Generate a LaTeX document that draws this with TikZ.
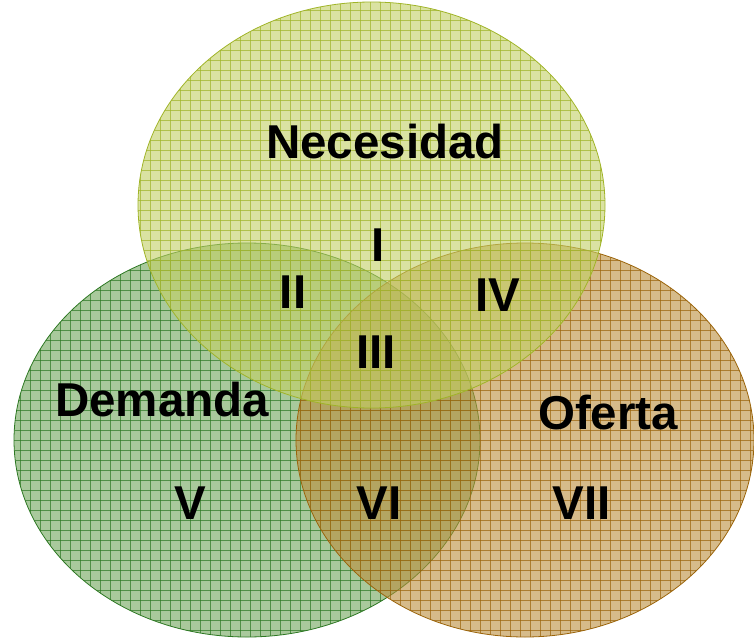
\documentclass[tikz,border=0pt]{standalone}
\usepackage{fontspec}
\setmainfont{Liberation Sans}
\definecolor{yfill}{RGB}{194,207,100}
\definecolor{yline}{RGB}{160,180,40}
\definecolor{gfill}{RGB}{112,165,90}
\definecolor{gline}{RGB}{45,120,35}
\definecolor{bfill}{RGB}{186,142,60}
\definecolor{bline}{RGB}{155,100,10}
\begin{document}
\begin{tikzpicture}[x=1pt,y=-1pt,
  lbl/.style={font=\bfseries\fontsize{47.5}{47.5}\selectfont, text=black, inner sep=0pt},
  gridline/.style={line width=0.5pt, draw opacity=0.7},
  rim/.style={line width=0.8pt}]
\useasboundingbox (0,0) rectangle (754,637);
% Demanda (green)
\begin{scope}
  \fill[gfill, fill opacity=0.6] (247,440) ellipse [x radius=233, y radius=197];
  \clip (247,440) ellipse [x radius=233, y radius=197];
  \foreach \i in {0,10,...,760} \draw[gline, gridline] (\i,0) -- (\i,637);
  \foreach \j in {0,10,...,640} \draw[gline, gridline] (0,\j) -- (754,\j);
\end{scope}
\draw[gline, rim] (247,440) ellipse [x radius=233, y radius=197];
% Oferta (brown)
\begin{scope}
  \fill[bfill, fill opacity=0.6] (525,440) ellipse [x radius=229, y radius=197];
  \clip (525,440) ellipse [x radius=229, y radius=197];
  \foreach \i in {0,10,...,760} \draw[bline, gridline] (\i,0) -- (\i,637);
  \foreach \j in {0,10,...,640} \draw[bline, gridline] (0,\j) -- (754,\j);
\end{scope}
\draw[bline, rim] (525,440) ellipse [x radius=229, y radius=197];
% Necesidad (yellow)
\begin{scope}
  \fill[yfill, fill opacity=0.6] (371.5,205) ellipse [x radius=233.5, y radius=203];
  \clip (371.5,205) ellipse [x radius=233.5, y radius=203];
  \foreach \i in {0,10,...,760} \draw[yline, gridline] (\i,0) -- (\i,637);
  \foreach \j in {0,10,...,640} \draw[yline, gridline] (0,\j) -- (754,\j);
\end{scope}
\draw[yline, rim] (371.5,205) ellipse [x radius=233.5, y radius=203];
% labels
\node[lbl] (nec) at (385,142) {Necesidad};
\node[lbl] (dem) at (162,400) {Demanda};
\node[lbl] (ofe) at (608,413) {Oferta};
\node[lbl] (r1) at (378,245) {I};
\node[lbl] (r2) at (293,292) {II};
\node[lbl] (r4) at (498,295) {IV};
\node[lbl] (r3) at (376,352) {III};
\node[lbl] (r5) at (190,503) {V};
\node[lbl] (r6) at (379,503) {VI};
\node[lbl] (r7) at (582,503) {VII};
\end{tikzpicture}
\end{document}
